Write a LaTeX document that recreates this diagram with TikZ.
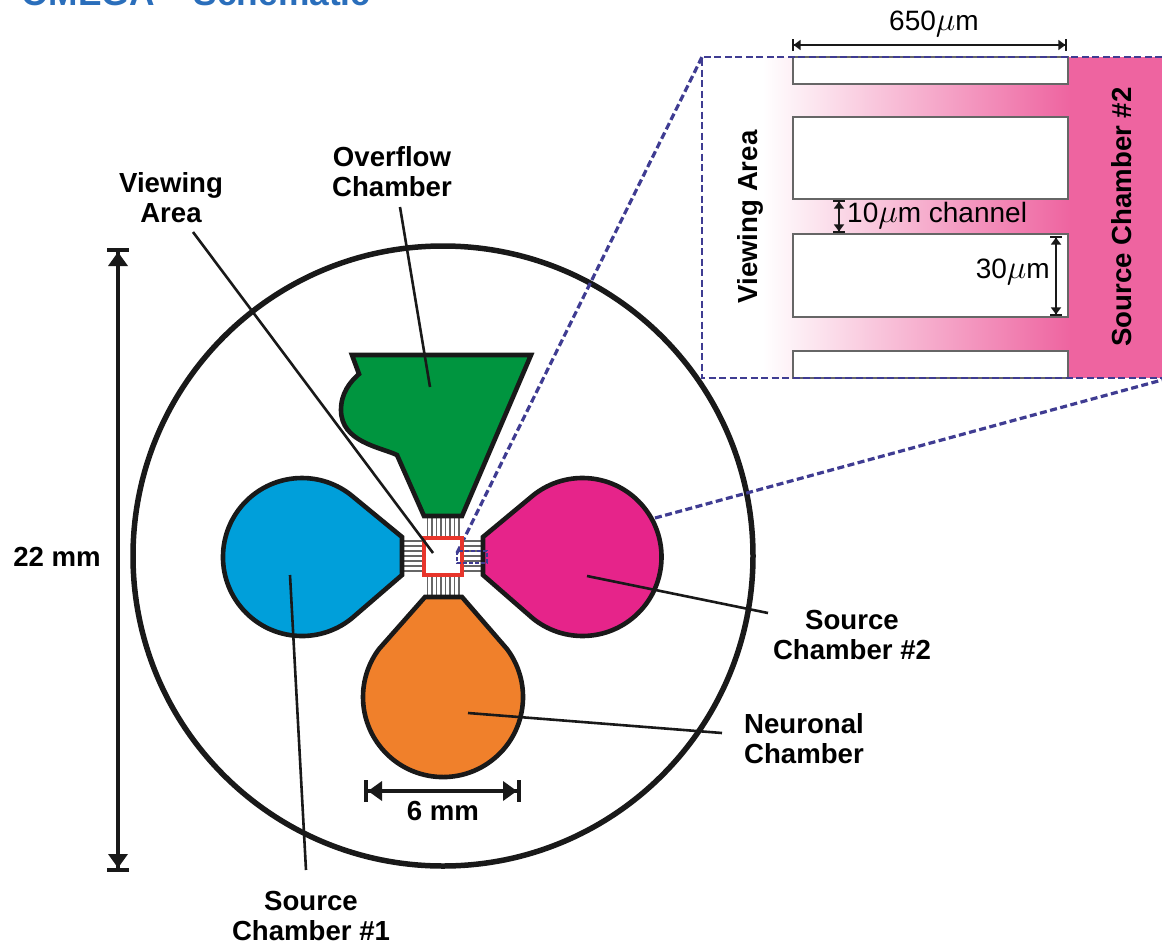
\documentclass[tikz,border=0pt]{standalone}
\usepackage{fontspec}
\setmainfont{Liberation Sans}
\usetikzlibrary{arrows.meta}
\definecolor{dashblue}{HTML}{3F3C92}
\definecolor{insetpink}{HTML}{EE64A0}
\definecolor{ovgreen}{HTML}{00953F}
\definecolor{srcblue}{HTML}{009FDA}
\definecolor{srcmag}{HTML}{E6248A}
\definecolor{neuorange}{HTML}{F0802B}
\definecolor{titleblue}{HTML}{2A6EBB}
\definecolor{sqred}{HTML}{E8352B}
\newcommand{\micro}{\scalebox{1.33}{$\mu$}}
\tikzset{
  lab/.style={font=\fontsize{27.6}{30}\selectfont\bfseries, align=center, inner sep=0pt},
  thin label/.style={font=\fontsize{28}{30}\selectfont, inner sep=0pt},
  chamber/.style={draw=black!90, line width=4.6pt, line join=miter},
  leader/.style={draw=black!90, line width=2.6pt},
  dim/.style={draw=black!90, line width=4pt, {Bar[width=22pt,line width=4pt,sep=0pt]Triangle[length=14pt,width=19pt]}-{Triangle[length=14pt,width=19pt,sep=0pt]Bar[width=22pt,line width=4pt]}},
  smalldim/.style={draw=black!90, line width=2pt, {Bar[width=12pt,line width=1.6pt,sep=0pt]Triangle[length=7pt,width=10pt]}-{Triangle[length=7pt,width=10pt,sep=0pt]Bar[width=12pt,line width=1.6pt]}},
  dashlink/.style={draw=dashblue, line width=3.2pt, dash pattern=on 7pt off 3.5pt},
  wall/.style={draw=black!60, line width=1.1pt, fill=white},
  chan/.style={draw=black!60, line width=1.3pt},
}
\begin{document}
\begin{tikzpicture}[x=1pt,y=-1pt]
\useasboundingbox (0,0) rectangle (1162,945);
\begin{scope}
\clip (0,0) rectangle (1162,945);
\node[anchor=base west, inner sep=0pt, text=titleblue, font=\fontsize{35.3}{40}\selectfont\bfseries] (title) at (21,5) {OMEGA -- Schematic};
\end{scope}
% outer circle
\coordinate (cc) at (443,556);
\draw[draw=black!90, line width=5.5pt] (cc) circle[radius=310];
% links below the chambers
\coordinate (insettl) at (702,57);
\coordinate (magedge) at (655,518);
\coordinate (insetbr) at (1162,380);
\draw[dashlink] (457,553) -- (insettl);
\draw[dashlink] (magedge) -- (insetbr);
% inset
\fill[left color=white, right color=insetpink] (763,57) rectangle (1070,378);
\fill[insetpink] (1070,57) rectangle (1162,378);
\draw[wall] (793,57) rectangle (1068,84);
\draw[wall] (793,117) rectangle (1068,199);
\draw[wall] (793,234) rectangle (1068,317);
\draw[wall] (793,351) rectangle (1068,378);
\draw[dashlink, line width=2.8pt] (1162,57) -- (702,57) -- (702,378) -- (1162,378);
\coordinate (w1) at (792,45);
\coordinate (w2) at (1067,45);
\draw[smalldim] (w1) -- (w2);
\node[thin label] (n650) at (934,24) {650\micro m};
\coordinate (c1) at (839,200);
\coordinate (c2) at (839,233);
\draw[smalldim] (c1) -- (c2);
\node[thin label, anchor=west] (n10) at (847,216) {10\micro m channel};
\coordinate (h1) at (1056,236);
\coordinate (h2) at (1056,316);
\draw[smalldim] (h1) -- (h2);
\node[thin label, anchor=east] (n30) at (1050,272) {30\micro m};
\node[lab, rotate=90] (va) at (750,217) {Viewing Area};
\node[lab, rotate=90] (sc) at (1122,217) {Source Chamber \#2};
% channels
\foreach \x in {427.5,432,436.5,441,445.5,450,454.5,459}{
  \draw[chan] (\x,516) -- (\x,538);
  \draw[chan] (\x,575) -- (\x,597);
}
\foreach \y in {541,546,551,556,561,566,571}{
  \draw[chan] (403,\y) -- (424,\y);
  \draw[chan] (462,\y) -- (483,\y);
}
% chambers
\draw[chamber, fill=ovgreen] (352,355) -- (531,355) -- (462,516) -- (424,516) -- (397,455)
  .. controls (380,447) and (341,442) .. (341,410)
  .. controls (341,393) and (350,382) .. (359,374) -- cycle;
\draw[chamber, fill=srcblue] (402,537) -- (402,575) -- (351.7,618.4)
  arc[start angle=-51, end angle=-309, radius=79pt] -- cycle;
\draw[chamber, fill=srcmag] (483,537) -- (532.8,495.6)
  arc[start angle=129, end angle=-129, radius=79pt] -- (483,575) -- cycle;
\draw[chamber, fill=neuorange] (425,597) -- (462,597) -- (506.9,648.9)
  arc[start angle=37, end angle=-217, radius=80pt] -- cycle;
% viewing square
\draw[draw=sqred, line width=4.4pt] (424,538) rectangle (462,575);
\draw[dashlink, line width=2.2pt, dash pattern=on 4pt off 2pt] (457,551) rectangle (487,563);
% labels and leaders
\node[lab] (lview) at (171,198) {Viewing\\Area};
\coordinate (eview) at (433,553);
\draw[leader] (193,232) -- (eview);
\node[lab] (lover) at (392,172) {Overflow\\Chamber};
\coordinate (eover) at (430,387);
\draw[leader] (400,207) -- (eover);
\node[lab] (ls1) at (311,916) {Source\\Chamber \#1};
\coordinate (es1) at (290,575);
\draw[leader] (306,870) -- (es1);
\node[lab] (ls2) at (852,635) {Source\\Chamber \#2};
\coordinate (es2) at (587,576);
\draw[leader] (768,613) -- (es2);
\node[lab, align=left] (lneu) at (804,739) {Neuronal\\Chamber};
\coordinate (eneu) at (468,713);
\draw[leader] (722,733) -- (eneu);
% dimensions
\node[lab] (l22) at (57,557) {22 mm};
\coordinate (d1) at (118,248);
\coordinate (d2) at (118,872);
\draw[dim] (d1) -- (d2);
\node[lab] (l6) at (443,811) {6 mm};
\coordinate (s1) at (364,791);
\coordinate (s2) at (521,791);
\draw[dim] (s1) -- (s2);
\end{tikzpicture}
\end{document}
